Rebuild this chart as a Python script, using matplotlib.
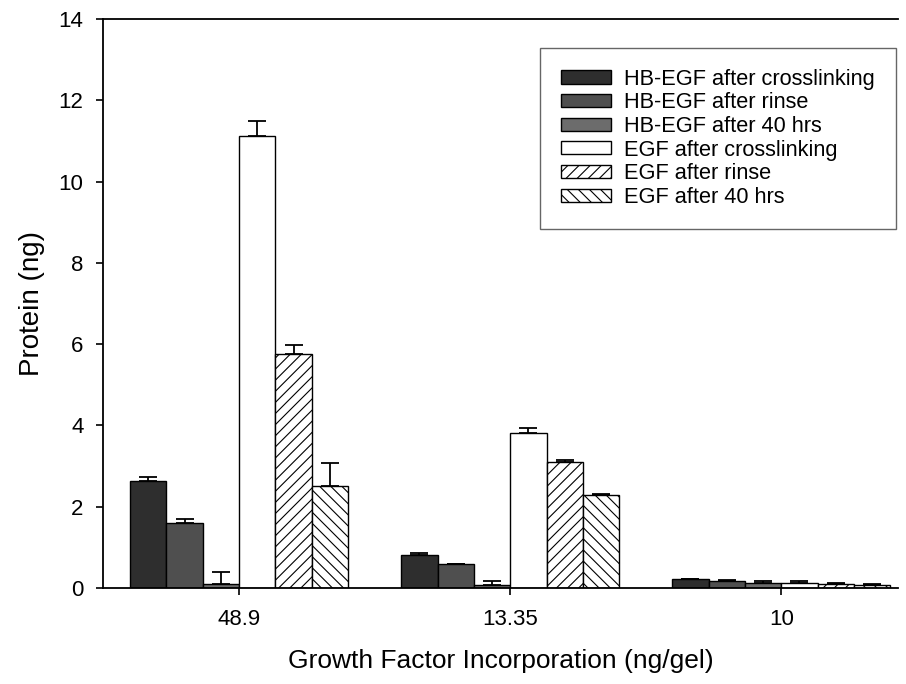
import numpy as np
import matplotlib.pyplot as plt

plt.rcParams['font.family'] = ['Liberation Sans', 'DejaVu Sans']
plt.rcParams['hatch.linewidth'] = 0.8

groups = ["48.9", "13.35", "10"]
series = [
    "HB-EGF after crosslinking",
    "HB-EGF after rinse",
    "HB-EGF after 40 hrs",
    "EGF after crosslinking",
    "EGF after rinse",
    "EGF after 40 hrs",
]

# mean protein (ng) per series, one value per group
hb_crosslink = [2.62, 0.80, 0.21]
hb_rinse = [1.60, 0.58, 0.17]
hb_40hrs = [0.09, 0.08, 0.12]
egf_crosslink = [11.11, 3.81, 0.13]
egf_rinse = [5.75, 3.09, 0.10]
egf_40hrs = [2.51, 2.28, 0.07]

# upper error (ng)
hb_crosslink_err = [0.12, 0.05, 0.02]
hb_rinse_err = [0.10, 0.02, 0.03]
hb_40hrs_err = [0.31, 0.09, 0.04]
egf_crosslink_err = [0.39, 0.13, 0.04]
egf_rinse_err = [0.22, 0.05, 0.03]
egf_40hrs_err = [0.57, 0.03, 0.02]

values = [hb_crosslink, hb_rinse, hb_40hrs, egf_crosslink, egf_rinse, egf_40hrs]
errors = [hb_crosslink_err, hb_rinse_err, hb_40hrs_err,
          egf_crosslink_err, egf_rinse_err, egf_40hrs_err]
fills = ["#2e2e2e", "#4f4f4f", "#6c6c6c", "white", "white", "white"]
hatches = [None, None, None, None, "///", "\\\\\\"]

fig = plt.figure(figsize=(9.06, 6.84), dpi=100)
ax = fig.add_axes([0.1137, 0.1404, 0.8773, 0.8318])

x = np.arange(len(groups))
width = 0.134
for i, (vals, errs) in enumerate(zip(values, errors)):
    pos = x + (i - 2.5) * width
    ax.bar(pos, vals, width, color=fills[i], edgecolor="black", linewidth=1.0,
           hatch=hatches[i], label=series[i], zorder=2)
    ax.errorbar(pos, vals, yerr=[np.zeros(len(errs)), errs], fmt="none",
                ecolor="black", elinewidth=1.3, capsize=6.5, capthick=1.3,
                zorder=3)

ax.set_xlim(-0.502, 2.43)
ax.set_ylim(0, 14)
ax.set_yticks(range(0, 15, 2))
ax.set_xticks(x)
ax.set_xticklabels(groups)
ax.tick_params(axis="both", direction="out", length=5, width=1.2,
               labelsize=16, pad=9)
ax.tick_params(axis="x", pad=10)
ax.spines["right"].set_visible(False)
for side in ["left", "bottom", "top"]:
    ax.spines[side].set_linewidth(1.3)

ax.set_xlabel("Growth Factor Incorporation (ng/gel)", fontsize=19, labelpad=14)
ax.set_ylabel("Protein (ng)", fontsize=20, labelpad=10)

leg = ax.legend(loc="upper right", bbox_to_anchor=(0.9975, 0.949), fontsize=15.7,
                frameon=True, fancybox=False, edgecolor="#404040",
                handlelength=2.3, handleheight=0.55, handletextpad=0.6,
                labelspacing=0.12, borderpad=0.95, borderaxespad=0)
leg.get_frame().set_linewidth(1.0)

fig.savefig("out.png", dpi=100)
